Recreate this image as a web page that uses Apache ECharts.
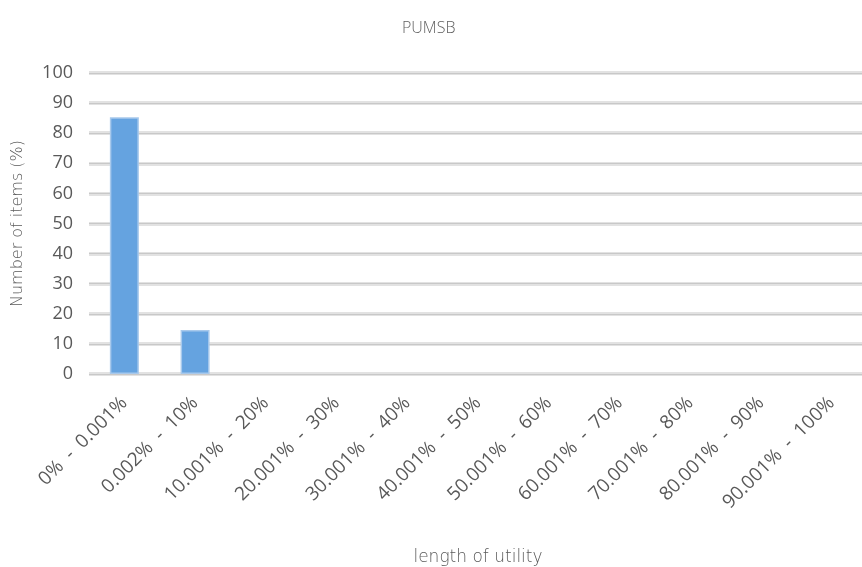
<!DOCTYPE html>
<html>
<head>
<meta charset="utf-8">
<script src="https://cdn.jsdelivr.net/npm/echarts@6/dist/echarts.min.js"></script>
<style>
  html, body { margin: 0; padding: 0; background: #fff; }
  #chart { width: 862px; height: 567px; }
</style>
</head>
<body>
<div id="chart"></div>
<script>
// Utility-length buckets and share of items in each
const categories = [
  '0% - 0.001%', '0.002% - 10%', '10.001% - 20%', '20.001% - 30%',
  '30.001% - 40%', '40.001% - 50%', '50.001% - 60%', '60.001% - 70%',
  '70.001% - 80%', '80.001% - 90%', '90.001% - 100%'
];
const itemShare = [85.3, 14.6, 0, 0, 0, 0, 0, 0, 0, 0, 0];
const yMin = 0, yMax = 100, yStep = 10;

const textColor = '#595959';
const font = '"Open Sans", "Noto Sans", sans-serif';

// zero-height buckets get no outline so they stay invisible
const barData = itemShare.map(v => (v > 0 ? v : { value: v, itemStyle: { borderWidth: 0 } }));

const chart = echarts.init(document.getElementById('chart'));
chart.setOption({
  animation: false,
  backgroundColor: '#ffffff',
  title: {
    text: 'PUMSB',
    left: 397,
    top: 15,
    textStyle: { color: '#5f5f5f', fontSize: 16, fontWeight: 300, fontFamily: font }
  },
  grid: {
    left: 89, right: -5, top: 73, bottom: 193,
    containLabel: false,
    outerBoundsMode: 'none'
  },
  xAxis: {
    type: 'category',
    data: categories,
    name: 'length of utility',
    nameLocation: 'middle',
    nameGap: 175,
    nameTextStyle: { color: textColor, fontSize: 17, fontWeight: 300, fontFamily: '"DejaVu Sans", sans-serif' },
    axisLine: { show: false },
    axisTick: { show: false },
    axisLabel: {
      interval: 0,
      rotate: 45,
      margin: 26,
      color: textColor,
      fontSize: 19,
      fontFamily: font,
      // wider gap around the range dash
      formatter: s => s.replace(' - ', '  -  ')
    }
  },
  yAxis: [
    {
      type: 'value',
      min: yMin, max: yMax, interval: yStep,
      name: 'Number of items (%)',
      nameLocation: 'middle',
      nameGap: 63,
      nameTextStyle: { color: textColor, fontSize: 16, fontWeight: 300, fontFamily: '"DejaVu Sans", sans-serif' },
      axisLine: { show: false },
      axisTick: { show: false },
      axisLabel: { color: textColor, fontSize: 18, margin: 16, fontFamily: font },
      splitLine: { lineStyle: { color: '#e2e2e2', width: 4 } }
    },
    {
      // overlay scale that draws the darker core of each gridline
      type: 'value',
      position: 'left',
      min: yMin, max: yMax, interval: yStep,
      axisLine: { show: false },
      axisTick: { show: false },
      axisLabel: { show: false },
      splitLine: { lineStyle: { color: '#c8c8c8', width: 1 } }
    }
  ],
  series: [{
    type: 'bar',
    data: barData,
    barWidth: 29,
    itemStyle: {
      color: '#65a3e0',
      borderColor: '#a8c9ec',
      borderWidth: 1.5
    }
  }]
});
</script>
</body>
</html>
